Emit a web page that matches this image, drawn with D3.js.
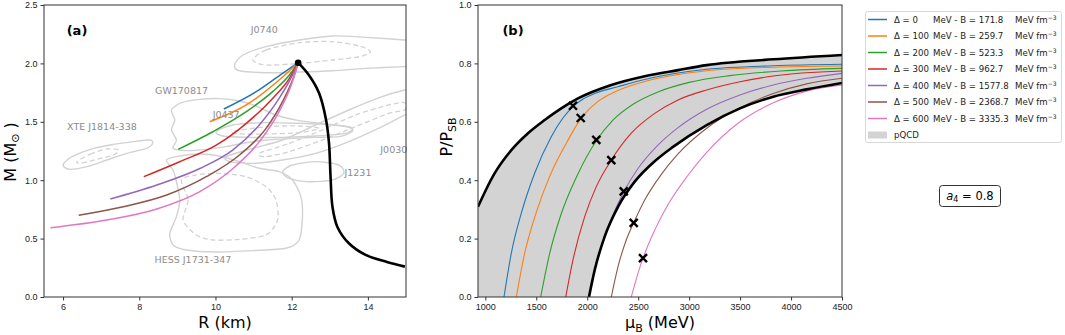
<!DOCTYPE html>
<html>
<head>
<meta charset="utf-8">
<script src="https://cdn.jsdelivr.net/npm/d3@7"></script>
<style>
  body { margin: 0; background: #fff; }
  svg { font-family: "DejaVu Sans", sans-serif; }
  .tick text { font-size: 9px; fill: #222; }
  .tick line { stroke: #333; }
  .domain { display: none; }
</style>
</head>
<body>
<svg width="1065" height="335"></svg>
<script>
var svg = d3.select('svg');

// ---- shared series info ----
const deltas = ['0', '100', '200', '300', '400', '500', '600'];
const bags = ['171.8', '259.7', '523.3', '962.7', '1577.8', '2368.7', '3335.3'];
const colors = ['#1f77b4', '#ff7f0e', '#2ca02c', '#d62728', '#9467bd', '#8c564b', '#e377c2'];

// ---- panel (a): mass-radius, [R km, M Msun] ----
const mr_d0 = [[10.22,1.61],[11.07,1.758],[11.76,1.915],[12.17,2.006]];
const mr_d100 = [[9.85,1.50],[10.81,1.644],[11.67,1.858],[12.17,2.006]];
const mr_d200 = [[9.02,1.264],[9.93,1.415],[10.81,1.587],[11.5,1.758],[11.94,1.90],[12.17,2.006]];
const mr_d300 = [[8.12,1.03],[9.06,1.158],[10.02,1.30],[10.81,1.487],[11.5,1.70],[11.94,1.872],[12.17,2.006]];
const mr_d400 = [[7.24,0.839],[8.46,0.959],[9.59,1.10],[10.46,1.259],[11.15,1.473],[11.67,1.70],[12.02,1.90],[12.17,2.006]];
const mr_d500 = [[6.41,0.70],[7.58,0.773],[8.72,0.873],[9.76,1.03],[10.63,1.216],[11.33,1.444],[11.76,1.672],[12.07,1.90],[12.17,2.006]];
const mr_d600 = [[5.67,0.593],[7.15,0.659],[8.46,0.753],[9.59,0.902],[10.46,1.10],[11.15,1.33],[11.67,1.587],[12.02,1.843],[12.17,2.006]];
const mrCurves = [mr_d0, mr_d100, mr_d200, mr_d300, mr_d400, mr_d500, mr_d600];

const hadronic = [[12.17,2.006],[12.45,1.9],[12.72,1.744],[12.9,1.52],[12.98,1.316],[13.02,1.03],
  [13.07,0.773],[13.2,0.60],[13.5,0.46],[13.94,0.36],[14.5,0.30],[14.97,0.26]];

// observational contours (solid = outer, dashed = inner)
const c_j0740 = [[10.5,1.986],[10.72,2.072],[11.33,2.143],[12.2,2.2],[13.07,2.235],[13.94,2.223],[14.97,2.2],[15.33,2.186],
  [15.33,1.972],[14.97,1.972],[13.94,1.957],[13.07,1.937],[12.2,1.926],[11.33,1.92],[10.63,1.937]];
const d_j0740 = [[10.98,2.029],[11.33,2.115],[12.2,2.178],[13.07,2.186],[13.77,2.149],[14.07,2.1],[13.77,2.057],[13.07,2.029],[12.2,2.0],[11.33,1.986]];
const c_xte = [[6.018,1.144],[6.235,1.201],[6.714,1.264],[7.236,1.301],[7.845,1.33],[8.281,1.344],[8.35,1.316],[8.194,1.273],
  [7.671,1.23],[7.149,1.173],[6.627,1.116],[6.192,1.093],[6.035,1.11]];
const d_xte = [[6.366,1.159],[6.714,1.224],[7.149,1.267],[7.454,1.259],[7.323,1.216],[6.888,1.179],[6.453,1.144]];
const c_gw = [[8.846,1.601],[9.107,1.664],[9.586,1.692],[10.108,1.698],[10.63,1.678],[11.065,1.635],[11.587,1.558],[12.196,1.51],
  [12.892,1.481],[13.501,1.458],[13.588,1.416],[13.24,1.373],[12.631,1.367],[12.022,1.358],[11.326,1.344],[10.717,1.316],
  [10.282,1.287],[9.76,1.264],[9.238,1.253],[8.889,1.273],[8.976,1.344],[8.846,1.43],[8.933,1.515]];
const c_j0437 = [[10.021,1.416],[10.456,1.473],[11.326,1.493],[12.196,1.487],[13.067,1.473],[13.588,1.444],[13.414,1.401],
  [12.631,1.378],[11.761,1.367],[10.891,1.367],[10.195,1.378]];
const d_j0437 = [[10.456,1.416],[11.326,1.458],[12.196,1.464],[12.718,1.444],[12.196,1.407],[11.326,1.396],[10.63,1.396]];
const c_j0030 = [[10.282,1.201],[10.978,1.273],[11.761,1.344],[12.631,1.473],[13.501,1.601],[14.372,1.715],[14.964,1.772],[15.417,1.801],
  [15.417,1.601],[14.964,1.558],[14.372,1.458],[13.501,1.33],[12.631,1.23],[11.761,1.173],[10.978,1.144],[10.37,1.159]];
const d_j0030 = [[11.152,1.23],[11.935,1.316],[12.805,1.43],[13.675,1.558],[14.546,1.644],[14.964,1.664],
  [14.964,1.601],[14.546,1.572],[13.675,1.458],[12.805,1.344],[11.935,1.244],[11.3,1.201]];
const c_j1231 = [[11.761,1.073],[12.022,1.13],[12.631,1.159],[13.24,1.13],[13.371,1.059],[13.067,1.002],[12.457,0.987],[11.935,1.016]];
const c_hess = [[8.715,1.173],[9.063,1.207],[9.586,1.224],[10.108,1.207],[10.63,1.159],[11.152,1.102],[11.674,1.073],[12.022,1.002],
  [12.24,0.859],[12.283,0.688],[12.196,0.488],[11.848,0.417],[10.978,0.397],[10.021,0.385],[9.238,0.402],[8.889,0.445],
  [8.802,0.545],[8.976,0.688],[9.063,0.83],[8.976,0.987],[8.889,1.087]];
const d_hess = [[9.107,1.002],[9.281,0.83],[9.151,0.659],[9.499,0.531],[9.934,0.488],[10.63,0.494],[11.326,0.531],[11.631,0.659],
  [11.587,0.83],[11.326,0.945],[10.804,1.03],[10.108,1.059],[9.499,1.045]];
const solidContours = [c_j0740, c_xte, c_gw, c_j0437, c_j0030, c_j1231, c_hess];
const dashedContours = [d_j0740, d_xte, d_j0437, d_j0030, d_hess];

const obsLabels = ['J0740', 'GW170817', 'J0437', 'XTE J1814-338', 'J0030', 'J1231', 'HESS J1731-347'];
const obsLabelPos = [[11.28,2.286],[9.11,1.766],[10.28,1.558],[7.02,1.458],[14.68,1.258],[13.74,1.064],[9.41,0.317]];

// ---- panel (b): pressure, [muB MeV, P/PSB] ----
const pqcdUpper = [[928,0.309],[1010,0.37],[1092,0.424],[1255,0.503],[1419,0.561],[1582,0.606],[1745,0.646],[1909,0.68],
  [2236,0.726],[2564,0.756],[2891,0.777],[3172,0.794],[3826,0.814],[4500,0.829]];
const pqcdLower = [[2017,0],[2073,0.092],[2171,0.207],[2302,0.309],[2466,0.395],[2662,0.465],[2845,0.515],[3172,0.589],
  [3499,0.646],[3826,0.686],[4153,0.711],[4500,0.733]];

const p_d0 = [[1183,0],[1255,0.15],[1353,0.287],[1484,0.424],[1647,0.549],[1760,0.612],[1860,0.652],[1960,0.678],[2073,0.697],
  [2300,0.72],[2564,0.745],[3172,0.78],[3826,0.792],[4500,0.797]];
const p_d100 = [[1304,0],[1386,0.15],[1500,0.29],[1640,0.42],[1800,0.53],[1936,0.61],[2100,0.668],[2300,0.707],[2564,0.738],
  [2891,0.762],[3172,0.775],[3826,0.787],[4500,0.791]];
const p_d200 = [[1543,0],[1632,0.15],[1745,0.285],[1900,0.415],[2089,0.535],[2250,0.605],[2450,0.66],[2700,0.703],[3000,0.735],
  [3400,0.758],[3900,0.774],[4500,0.783]];
const p_d300 = [[1789,0],[1860,0.127],[1975,0.275],[2089,0.378],[2236,0.469],[2432,0.561],[2662,0.629],[2891,0.675],[3172,0.709],
  [3499,0.737],[3826,0.757],[4500,0.774]];
const p_d400 = [[2017,0],[2073,0.092],[2171,0.207],[2269,0.295],[2358,0.36],[2498,0.44],[2694,0.52],[2891,0.58],[3172,0.643],
  [3499,0.692],[3826,0.726],[4153,0.749],[4500,0.766]];
const p_d500 = [[2236,0],[2302,0.104],[2383,0.195],[2456,0.254],[2564,0.332],[2727,0.42],[2891,0.49],[3172,0.578],[3499,0.648],
  [3826,0.697],[4153,0.73],[4500,0.749]];
const p_d600 = [[2432,0],[2498,0.081],[2547,0.133],[2662,0.229],[2799,0.32],[2974,0.41],[3172,0.495],[3499,0.6],[3826,0.665],
  [4153,0.705],[4500,0.726]];
const pCurves = [p_d0, p_d100, p_d200, p_d300, p_d400, p_d500, p_d600];

const transMu = [1860, 1936, 2089, 2236, 2358, 2456, 2547];
const transP = [0.655, 0.613, 0.538, 0.469, 0.362, 0.254, 0.133];

// ================= panel (a) =================
var ax = { left: 44, right: 406, top: 5, bottom: 297 };
var xA = d3.scaleLinear().domain([5.5, 15]).range([ax.left, ax.right]);
var yA = d3.scaleLinear().domain([0, 2.5]).range([ax.bottom, ax.top]);

svg.append('clipPath').attr('id', 'clipA').append('rect')
  .attr('x', ax.left).attr('y', ax.top).attr('width', ax.right - ax.left).attr('height', ax.bottom - ax.top);

var gA = svg.append('g').attr('clip-path', 'url(#clipA)');
var contourLine = d3.line().x(d => xA(d[0])).y(d => yA(d[1])).curve(d3.curveCardinalClosed.tension(0.2));

gA.selectAll('.cs').data(solidContours).enter().append('path')
  .attr('d', contourLine).attr('fill', 'none').attr('stroke', '#d2d2d2').attr('stroke-width', 1.4);
gA.selectAll('.cd').data(dashedContours).enter().append('path')
  .attr('d', contourLine).attr('fill', 'none').attr('stroke', '#d2d2d2').attr('stroke-width', 1.3)
  .attr('stroke-dasharray', '5,3');

svg.selectAll('.obs').data(obsLabels).enter().append('text')
  .attr('x', (d, i) => xA(obsLabelPos[i][0])).attr('y', (d, i) => yA(obsLabelPos[i][1]))
  .attr('dy', '0.35em').attr('text-anchor', 'middle')
  .style('font-size', '9.5px').style('fill', '#8c8c8c').text(d => d);

var mrLine = d3.line().x(d => xA(d[0])).y(d => yA(d[1])).curve(d3.curveMonotoneX);
gA.selectAll('.mr').data(mrCurves).enter().append('path')
  .attr('d', mrLine).attr('fill', 'none').attr('stroke', (d, i) => colors[i]).attr('stroke-width', 1.5);

var hadLine = d3.line().x(d => xA(d[0])).y(d => yA(d[1])).curve(d3.curveCatmullRom.alpha(0.5));
gA.append('path').datum(hadronic).attr('d', hadLine)
  .attr('fill', 'none').attr('stroke', '#000').attr('stroke-width', 2.6);
gA.append('circle').attr('cx', xA(hadronic[0][0])).attr('cy', yA(hadronic[0][1])).attr('r', 3.3).attr('fill', '#000');

svg.append('g').attr('transform', 'translate(0,' + ax.bottom + ')')
  .call(d3.axisBottom(xA).tickValues([6, 8, 10, 12, 14]).tickSize(3.5).tickPadding(3).tickFormat(d3.format('d')));
svg.append('g').attr('transform', 'translate(' + ax.left + ',0)')
  .call(d3.axisLeft(yA).tickValues([0, 0.5, 1, 1.5, 2, 2.5]).tickSize(3.5).tickPadding(3).tickFormat(d3.format('.1f')));
svg.append('rect').attr('x', ax.left).attr('y', ax.top).attr('width', ax.right - ax.left).attr('height', ax.bottom - ax.top)
  .attr('fill', 'none').attr('stroke', '#333').attr('stroke-width', 1);

svg.append('text').attr('x', 77).attr('y', 30).attr('dy', '0.35em').attr('text-anchor', 'middle')
  .style('font-size', '13px').style('font-weight', 'bold').text('(a)');
svg.append('text').attr('x', 225).attr('y', 328).attr('text-anchor', 'middle').style('font-size', '16px').text('R (km)');
var mLab = svg.append('text').attr('transform', 'translate(16,152) rotate(-90)').attr('text-anchor', 'middle').style('font-size', '16px');
mLab.append('tspan').text('M (M');
mLab.append('tspan').text('\u2299').style('font-size', '11px').attr('dy', 3);
mLab.append('tspan').text(' )').attr('dy', -3);

// ================= panel (b) =================
var bx = { left: 478, right: 842, top: 5, bottom: 297 };
var xB = d3.scaleLinear().domain([928, 4500]).range([bx.left, bx.right]);
var yB = d3.scaleLinear().domain([0, 1]).range([bx.bottom, bx.top]);

svg.append('clipPath').attr('id', 'clipB').append('rect')
  .attr('x', bx.left).attr('y', bx.top).attr('width', bx.right - bx.left).attr('height', bx.bottom - bx.top);
var gB = svg.append('g').attr('clip-path', 'url(#clipB)');

var pLine = d3.line().x(d => xB(d[0])).y(d => yB(d[1])).curve(d3.curveMonotoneX);
var lowerRev = pqcdLower.slice().reverse();
var bandPath = pLine(pqcdUpper) + 'L' + pLine(lowerRev).slice(1)
  + 'L' + xB(pqcdUpper[0][0]) + ',' + yB(0) + 'Z';
gB.append('path').attr('d', bandPath).attr('fill', '#d3d3d3').attr('stroke', 'none');

gB.selectAll('.pc').data(pCurves).enter().append('path')
  .attr('d', pLine).attr('fill', 'none').attr('stroke', (d, i) => colors[i]).attr('stroke-width', 1.1);

gB.append('path').datum(pqcdUpper).attr('d', pLine).attr('fill', 'none').attr('stroke', '#000').attr('stroke-width', 2.6);
gB.append('path').datum(pqcdLower).attr('d', pLine).attr('fill', 'none').attr('stroke', '#000').attr('stroke-width', 2.6);

var marks = gB.selectAll('.x').data(transMu).enter().append('g')
  .attr('transform', (d, i) => 'translate(' + xB(d) + ',' + yB(transP[i]) + ')');
marks.append('path').attr('d', 'M-4,-4L4,4M-4,4L4,-4').attr('stroke', '#000').attr('stroke-width', 2.4);

svg.append('g').attr('transform', 'translate(0,' + bx.bottom + ')')
  .call(d3.axisBottom(xB).tickValues([1000, 1500, 2000, 2500, 3000, 3500, 4000, 4500]).tickSize(3.5).tickPadding(3).tickFormat(d3.format('d')));
svg.append('g').attr('transform', 'translate(' + bx.left + ',0)')
  .call(d3.axisLeft(yB).tickValues([0, 0.2, 0.4, 0.6, 0.8, 1.0]).tickSize(3.5).tickPadding(3).tickFormat(d3.format('.1f')));
svg.append('rect').attr('x', bx.left).attr('y', bx.top).attr('width', bx.right - bx.left).attr('height', bx.bottom - bx.top)
  .attr('fill', 'none').attr('stroke', '#333').attr('stroke-width', 1);

svg.append('text').attr('x', 513).attr('y', 30).attr('dy', '0.35em').attr('text-anchor', 'middle')
  .style('font-size', '13px').style('font-weight', 'bold').text('(b)');
var muLab = svg.append('text').attr('x', 660).attr('y', 328).attr('text-anchor', 'middle').style('font-size', '16px');
muLab.append('tspan').text('\u03bc');
muLab.append('tspan').text('B').style('font-size', '11px').attr('dy', 4);
muLab.append('tspan').text(' (MeV)').attr('dy', -4);
var pLab = svg.append('text').attr('transform', 'translate(452,137) rotate(-90)').attr('text-anchor', 'middle').style('font-size', '16px');
pLab.append('tspan').text('P/P');
pLab.append('tspan').text('SB').style('font-size', '11px').attr('dy', 4);

// ================= legend =================
var leg = svg.append('g');
leg.append('rect').attr('x', 865.5).attr('y', 11.5).attr('width', 196).attr('height', 131).attr('rx', 2)
  .attr('fill', '#fff').attr('stroke', '#d8d8d8');
var rowY = d3.scaleLinear().domain([0, 1]).range([19.5, 36]);
deltas.forEach(function (dl, i) {
  var y = rowY(i);
  leg.append('line').attr('x1', 868).attr('x2', 887).attr('y1', y).attr('y2', y)
    .attr('stroke', colors[i]).attr('stroke-width', 1.5);
  var t = leg.append('text').attr('y', y).attr('dy', '0.35em').style('font-size', '8.6px').style('fill', '#222');
  t.append('tspan').attr('x', 894).text('\u0394 = ' + dl);
  t.append('tspan').attr('x', 933).text('MeV - B = ' + bags[i]);
  t.append('tspan').attr('x', 1015).text('MeV fm');
  t.append('tspan').text('\u22123').style('font-size', '6px').attr('dy', -3);
});
var yq = rowY(7);
leg.append('rect').attr('x', 868).attr('y', yq - 3.5).attr('width', 19).attr('height', 7).attr('fill', '#d3d3d3');
leg.append('text').attr('x', 894).attr('y', yq).attr('dy', '0.35em').style('font-size', '8.6px').style('fill', '#222').text('pQCD');

// a4 box
svg.append('rect').attr('x', 939.5).attr('y', 185.5).attr('width', 61).attr('height', 21).attr('rx', 3)
  .attr('fill', '#fff').attr('stroke', '#333');
var a4 = svg.append('text').attr('x', 970).attr('y', 196).attr('dy', '0.35em').attr('text-anchor', 'middle').style('font-size', '11.5px');
a4.append('tspan').text('a').style('font-style', 'italic');
a4.append('tspan').text('4').style('font-size', '8px').attr('dy', 2);
a4.append('tspan').text(' = 0.8').attr('dy', -2);
</script>
</body>
</html>
